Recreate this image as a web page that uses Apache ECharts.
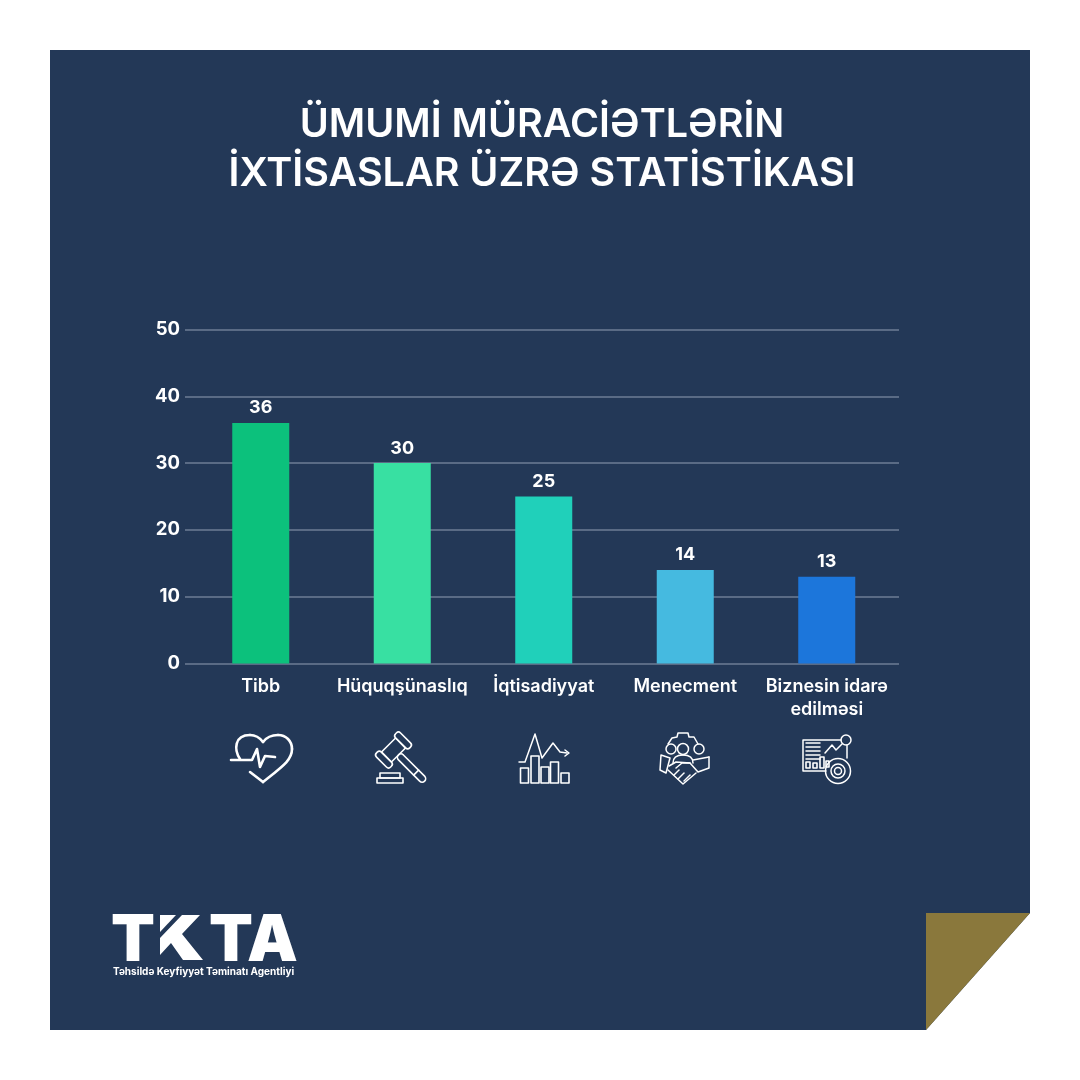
<!DOCTYPE html>
<html>
<head>
<meta charset="utf-8">
<title>TKTA</title>
<script src="https://cdn.jsdelivr.net/npm/echarts@6/dist/echarts.min.js"></script>
<style>
  html, body { margin: 0; padding: 0; background: #fff; }
  .panel { position: absolute; left: 50px; top: 50px; width: 980px; height: 980px; background: #233857;
           clip-path: polygon(0 0, 100% 0, 100% 863px, 876px 100%, 0 100%); }
  .fold { position: absolute; left: 926px; top: 913px; width: 104px; height: 117px; background: #8A783C;
          clip-path: polygon(0 0, 100% 0, 0 100%); }
  #chart { position: absolute; left: 0; top: 0; width: 1080px; height: 1080px; }
</style>
</head>
<body>
<div class="panel"></div>
<div class="fold"></div>
<div id="chart"></div>
<script>
"use strict";

/* ===== data ===== */
const categories = ["Tibb", "Hüquqşünaslıq", "İqtisadiyyat", "Menecment", "Biznesin idarə\nedilməsi"];
const values = [36, 30, 25, 14, 13];
const barColors = ["#0CC17C", "#38E0A2", "#20D0BA", "#45BAE0", "#1C76DB"];
const titleText = "ÜMUMİ MÜRACİƏTLƏRİN\nİXTİSASLAR ÜZRƏ STATİSTİKASI";
const logoSubtitle = "Təhsildə Keyfiyyət Təminatı Agentliyi";

const FONT = "Inter";
const WHITE = "#fff";

/* ===== icons and logo, just decoration ===== */
function strokeStyle(width) {
  return { fill: "none", stroke: WHITE, lineWidth: width || 1.6, lineJoin: "round", lineCap: "round" };
}
function line(points, width) {
  return { type: "polyline", shape: { points }, style: strokeStyle(width) };
}
function curve(x1, y1, cpx1, cpy1, cpx2, cpy2, x2, y2, width) {
  return { type: "bezierCurve", shape: { x1, y1, cpx1, cpy1, cpx2, cpy2, x2, y2 }, style: strokeStyle(width) };
}
function ring(cx, cy, r, width) {
  return { type: "circle", shape: { cx, cy, r }, style: strokeStyle(width) };
}
function box(x, y, w, h, r) {
  return { type: "rect", shape: { x, y, width: w, height: h, r: r || 0 }, style: strokeStyle(1.6) };
}

function heartIcon() {
  const w = 2.6;
  return [
    curve(240, 759, 234, 750, 234, 735, 250, 735, w),
    curve(250, 735, 256, 735, 260, 738, 263, 742, w),
    curve(263, 742, 266, 738, 271, 735, 278, 735, w),
    curve(278, 735, 286, 735, 292, 741, 292, 749, w),
    curve(292, 749, 292, 760, 283, 766, 263, 782, w),
    line([[263, 782], [250, 772]], w),
    line([[231, 760], [252, 760], [257, 749], [260, 767], [265, 756], [275, 757]], w)
  ];
}

function gavelIcon() {
  return [
    { type: "group", x: 393.5, y: 750, rotation: -Math.PI / 4, children: [
      box(-7, -10, 14, 20),
      box(-10, -17, 20, 7, 3),
      box(-10, 10, 20, 7, 3),
      box(7, -3.5, 37, 7, 3.5),
      line([[32, -3.5], [32, 3.5]])
    ] },
    box(380, 773, 20, 5),
    box(377, 778, 26, 5)
  ];
}

function trendIcon() {
  return [
    box(520.5, 768, 8, 15), box(531, 756, 8, 27), box(541, 767, 8, 16), box(550.5, 762, 8, 21), box(561, 773, 8, 10),
    line([[519, 762], [525, 762], [535, 734], [542, 758], [553, 743], [560, 752], [567, 753]], 1.5),
    line([[565, 750], [569, 753], [565, 756]], 1.5)
  ];
}

function teamIcon() {
  return [
    line([[668, 744], [672, 738], [677, 737], [678, 733], [688, 733], [689, 737], [694, 737], [698, 744]], 1.5),
    ring(683, 749, 5.5, 1.5), ring(671, 749, 5, 1.5), ring(699, 749, 5, 1.5),
    curve(673, 763, 673, 757, 678, 755, 683, 755, 1.5),
    curve(683, 755, 688, 755, 693, 757, 693, 763, 1.5),
    line([[661, 755], [670, 758], [666, 773], [660, 770], [661, 755]], 1.5),
    line([[709, 757], [709, 768], [698, 772], [690, 763], [682, 763], [676, 768]], 1.5),
    line([[669, 766], [676, 762], [690, 763]], 1.5),
    line([[668, 770], [683, 784], [696, 773]], 1.5),
    line([[674, 775], [679, 770]], 1.5),
    line([[678, 779], [684, 773]], 1.5),
    line([[684, 781], [690, 775]], 1.5),
    line([[693, 760], [709, 757]], 1.5)
  ];
}

function reportIcon() {
  const listRows = [743, 747, 751, 755, 759].map(y => line([[806, y], [820, y]], 1.5));
  return [
    line([[826, 771], [803, 771], [803, 740], [841, 740]], 1.5),
    line([[847, 745], [847, 758]], 1.5),
    ring(846, 740, 5, 1.5), ring(838, 771, 12.5, 1.5), ring(838, 771, 7, 1.5), ring(838, 771, 3.5, 1.5),
    box(806, 762, 4, 6), box(813, 763, 4, 5), box(820, 757, 4, 11), box(826, 761, 3, 6),
    line([[825, 753], [832, 745], [836, 750], [842, 744]], 1.5)
  ].concat(listRows);
}

function logo() {
  const big = { fill: WHITE, fontFamily: FONT, fontWeight: 900, fontSize: 64, textVerticalAlign: "middle" };
  return [
    { type: "text", x: 111, y: 942, style: Object.assign({ text: "T" }, big) },
    { type: "text", x: 209, y: 942, style: Object.assign({ text: "TA" }, big) },
    { type: "polygon", shape: { points: [[160, 915], [176, 915], [160, 932]] }, style: { fill: WHITE } },
    { type: "polygon", shape: { points: [[160, 938], [182, 915], [200, 915], [182, 934], [203, 960], [183, 960], [171, 943], [160, 955]] }, style: { fill: WHITE } },
    { type: "text", x: 113, y: 972, style: { text: logoSubtitle, fill: WHITE, fontFamily: FONT, fontWeight: 700, fontSize: 10, textVerticalAlign: "middle" } }
  ];
}

/* ===== chart ===== */
const chart = echarts.init(document.getElementById("chart"), null, { renderer: "canvas" });

chart.setOption({
  backgroundColor: "transparent",
  animation: false,
  title: {
    text: titleText, left: 537, top: 96, textAlign: "center",
    textStyle: { color: WHITE, fontFamily: FONT, fontWeight: 600, fontSize: 39.5, lineHeight: 49 }
  },
  // two grids: the lines run a little wider than the category band
  grid: [
    { left: 185, right: 181, top: 329.5, bottom: 416.5 },
    { left: 190, right: 182.5, top: 329.5, bottom: 416.5 }
  ],
  xAxis: [
    { gridIndex: 0, type: "category", data: categories, show: false },
    {
      gridIndex: 1, type: "category", data: categories,
      axisLine: { show: false }, axisTick: { show: false },
      axisLabel: { color: WHITE, fontFamily: FONT, fontWeight: 600, fontSize: 18, lineHeight: 23, margin: 12, interval: 0 }
    }
  ],
  yAxis: [
    {
      gridIndex: 0, type: "value", min: 0, max: 50, interval: 10,
      axisLine: { show: false }, axisTick: { show: false },
      axisLabel: { color: WHITE, fontFamily: FONT, fontWeight: 700, fontSize: 18.5, margin: 5, padding: [6, 0, 0, 0] },
      splitLine: { lineStyle: { color: "#5A6B85", width: 2 } }
    },
    { gridIndex: 1, type: "value", min: 0, max: 50, interval: 10, show: false }
  ],
  series: [{
    type: "bar", xAxisIndex: 1, yAxisIndex: 1, barWidth: 57,
    data: values.map((v, i) => ({ value: v, itemStyle: { color: barColors[i] } })),
    label: { show: true, position: "top", distance: 6, color: WHITE, fontFamily: FONT, fontWeight: 700, fontSize: 18 }
  }],
  graphic: [].concat(heartIcon(), gavelIcon(), trendIcon(), teamIcon(), reportIcon(), logo())
});
</script>
</body>
</html>
